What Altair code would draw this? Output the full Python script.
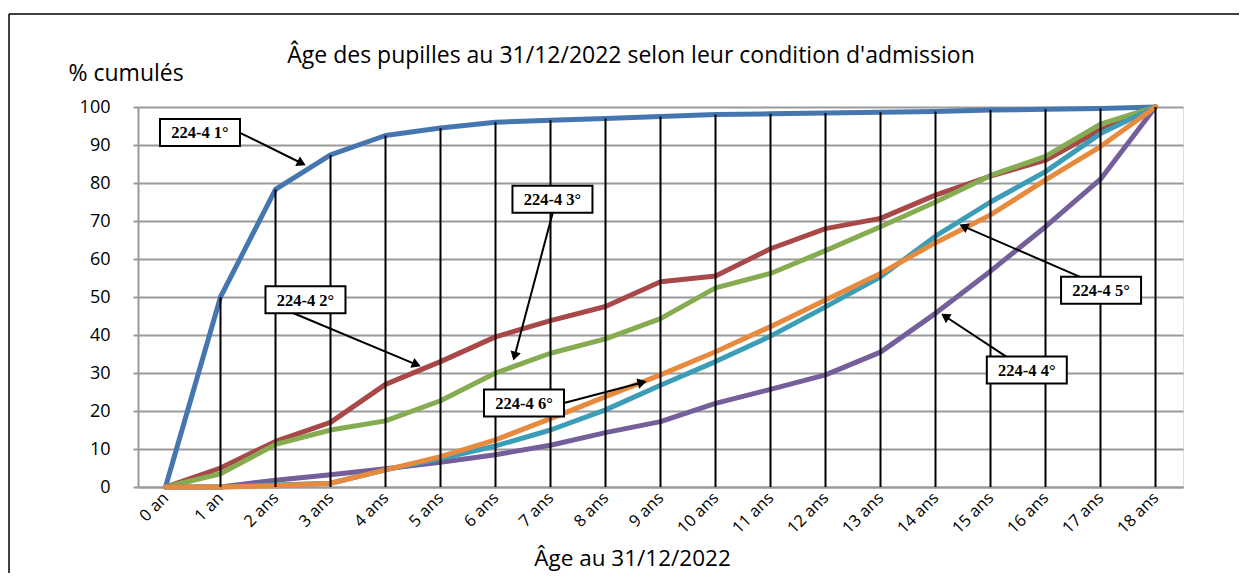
import json
import math
import altair as alt
import pandas as pd

# ---------------- data ----------------
ages = ["0 an", "1 an", "2 ans", "3 ans", "4 ans", "5 ans", "6 ans", "7 ans", "8 ans",
        "9 ans", "10 ans", "11 ans", "12 ans", "13 ans", "14 ans", "15 ans", "16 ans",
        "17 ans", "18 ans"]

series_names = ["224-4 1°", "224-4 2°", "224-4 3°", "224-4 4°", "224-4 5°", "224-4 6°"]
s1 = [0, 50, 78.3, 87.4, 92.5, 94.5, 96, 96.5, 97, 97.5, 98, 98.2, 98.4, 98.6, 98.8, 99.2, 99.4, 99.6, 100]
s2 = [0, 5, 12, 17, 27, 33, 39.5, 43.8, 47.5, 54, 55.5, 62.7, 68, 70.7, 76.8, 81.8, 86, 94, 100]
s3 = [0, 3.5, 11.2, 15, 17.4, 22.7, 30, 35.2, 39, 44.3, 52.4, 56.2, 62.2, 68.5, 75, 82, 87, 95.5, 100]
s4 = [0, 0, 1.8, 3.2, 4.8, 6.5, 8.5, 11, 14.3, 17.2, 22, 25.7, 29.5, 35.5, 45.7, 56.8, 68.5, 81, 100]
s5 = [0, 0, 0.5, 1, 4.5, 7.5, 10.8, 15, 20.3, 26.8, 33, 39.7, 47.4, 55.3, 66, 75, 83, 93, 100]
s6 = [0, 0, 0.3, 1, 4.5, 8, 12.4, 18, 23.8, 29.5, 35.6, 42.2, 49.2, 56.2, 64.3, 71.6, 80.8, 89.6, 100]
series_values = [s1, s2, s3, s4, s5, s6]
colors = ["#4676B0", "#A84848", "#86AC52", "#745F9A", "#3C9DB6", "#E88A3E"]

title_text = "Âge des pupilles au 31/12/2022 selon leur condition d'admission"
y_ticks = [0, 10, 20, 30, 40, 50, 60, 70, 80, 90, 100]

# annotation boxes: label text, centre (x in age units, y in %)
ann_text = ["224-4 1°", "224-4 2°", "224-4 3°", "224-4 6°", "224-4 5°", "224-4  4°"]
ann_cx = [0.627, 2.545, 7.036, 6.518, 17.01, 15.66]
ann_cy = [93.3, 49.3, 75.7, 22.1, 51.8, 30.8]
# arrows: start (x, y) and tip (x, y) in data units
arr_x1 = [1.355, 2.318, 7.045, 7.245, 16.627, 15.30]
arr_y1 = [93.2, 45.8, 72.4, 22.1, 55.3, 34.2]
arr_x2 = [2.573, 4.664, 6.318, 8.773, 14.409, 14.082]
arr_y2 = [84.5, 31.6, 32.9, 27.9, 69.2, 45.8]

# ---------------- layout ----------------
W, H = 1045, 380
PAD_L, PAD_T, PAD_R, PAD_B = 130, 99, 56, 86
PX_X = W / 19.0      # pixels per age unit
PX_Y = H / 100.0     # pixels per %
BOX_W, BOX_H = 80, 27
FONT = "Open Sans"

xscale = alt.Scale(domain=[-0.5, 18.5], nice=False, zero=False)
yscale = alt.Scale(domain=[0, 100], nice=False)
label_expr = json.dumps(ages) + "[datum.value]"

x_axis = alt.Axis(values=list(range(19)), labelExpr=label_expr, labelAngle=315,
                  labelAlign="right", labelBaseline="middle", labelPadding=8,
                  labelFontSize=16.5, labelFont=FONT, labelColor="#000000",
                  labelOverlap=False, labelFlush=False,
                  ticks=False, grid=False, domainColor="#9A9A9A", domainWidth=2,
                  title="Âge au 31/12/2022", titleFont=FONT, titleFontSize=22.5,
                  titleFontWeight="normal", titleColor="#000000",
                  titleX=494, titleY=78, titleAlign="center",
                  titleBaseline="alphabetic", titleAnchor="start")
y_axis = alt.Axis(values=y_ticks, tickCount=11, labelFontSize=18, labelFont=FONT,
                  labelColor="#000000", labelPadding=23, tickSize=5, tickWidth=2,
                  labelOverlap=False, labelFlush=False,
                  tickColor="#9A9A9A", grid=True, gridColor="#9A9A9A", gridWidth=2,
                  domainColor="#9A9A9A", domainWidth=2,
                  title="% cumulés", titleAngle=0, titleFont=FONT, titleFontSize=23,
                  titleFontWeight="normal", titleColor="#000000",
                  titleX=-70, titleY=-27, titleAlign="left",
                  titleBaseline="alphabetic", titleAnchor="start")


def X(field):
    return alt.X(field, scale=xscale, axis=x_axis)


def Y(field):
    return alt.Y(field, scale=yscale, axis=y_axis)


rows = []
for name, vals in zip(series_names, series_values):
    for i, v in enumerate(vals):
        rows.append({"x": i, "age": ages[i], "value": v, "series": name})
df = pd.DataFrame(rows)

layers = []
for name, col in zip(series_names, colors):
    layers.append(
        alt.Chart(df[df.series == name]).mark_line(
            color=col, strokeWidth=5, strokeJoin="round", strokeCap="round"
        ).encode(x=X("x:Q"), y=Y("value:Q"))
    )

# drop lines from the first series down to 0
drop_df = pd.DataFrame({"x": list(range(len(s1))), "top": s1, "bottom": [0] * len(s1)})
drop_df = drop_df[drop_df.top > 0]
layers.append(
    alt.Chart(drop_df).mark_rule(color="#000000", strokeWidth=2).encode(
        x=X("x:Q"), y=Y("top:Q"), y2="bottom:Q",
    )
)

# arrows
heads = []
for x1, y1, x2, y2 in zip(arr_x1, arr_y1, arr_x2, arr_y2):
    dxp = (x2 - x1) * PX_X
    dyp = -(y2 - y1) * PX_Y
    L = math.hypot(dxp, dyp)
    ux, uy = dxp / L, dyp / L
    back = 6.0
    hx = x2 - ux * back / PX_X
    hy = y2 + uy * back / PX_Y
    ang = math.degrees(math.atan2(dxp, -dyp)) % 360
    heads.append({"x1": x1, "y1": y1, "hx": hx, "hy": hy, "ang": ang})
heads_df = pd.DataFrame(heads)

layers.append(
    alt.Chart(heads_df).mark_rule(color="#000000", strokeWidth=2).encode(
        x=X("x1:Q"), y=Y("y1:Q"), x2="hx:Q", y2="hy:Q",
    )
)
layers.append(
    alt.Chart(heads_df).mark_point(shape="triangle-up", filled=True, color="#000000",
                                   size=110, opacity=1).encode(
        x=X("hx:Q"), y=Y("hy:Q"),
        angle=alt.Angle("ang:Q", scale=None),
    )
)

# annotation boxes
box_df = pd.DataFrame({
    "text": ann_text,
    "cx": ann_cx,
    "cy": ann_cy,
    "x0": [c - BOX_W / 2 / PX_X for c in ann_cx],
    "x1": [c + BOX_W / 2 / PX_X for c in ann_cx],
    "y0": [c - BOX_H / 2 / PX_Y for c in ann_cy],
    "y1": [c + BOX_H / 2 / PX_Y for c in ann_cy],
})
layers.append(
    alt.Chart(box_df).mark_rect(fill="#FFFFFF", stroke="#000000", strokeWidth=2).encode(
        x=X("x0:Q"), x2="x1:Q", y=Y("y0:Q"), y2="y1:Q",
    )
)
layers.append(
    alt.Chart(box_df).mark_text(font="Liberation Serif", fontWeight="bold", fontSize=16.5,
                                color="#000000", align="center", baseline="middle", dy=1).encode(
        x=X("cx:Q"), y=Y("cy:Q"), text="text:N",
    )
)

# chart title as text placed above the plot
layers.append(
    alt.Chart(pd.DataFrame({"t": [title_text]})).mark_text(
        font=FONT, fontSize=23, color="#000000", align="center", baseline="alphabetic"
    ).encode(x=alt.value(493), y=alt.value(-44), text="t:N")
)

# outer frame (top and left edges of the chart border)
layers.append(
    alt.Chart(pd.DataFrame({"k": [0]})).mark_rule(color="#000000", strokeWidth=1.5).encode(
        x=alt.value(9 - 8 - PAD_L), x2=alt.value(W + PAD_R + 10),
        y=alt.value(14 - 8 - PAD_T),
    )
)
layers.append(
    alt.Chart(pd.DataFrame({"k": [0]})).mark_rule(color="#000000", strokeWidth=1.5).encode(
        x=alt.value(9 - 8 - PAD_L),
        y=alt.value(14 - 8 - PAD_T), y2=alt.value(H + PAD_B + 10),
    )
)

chart = alt.layer(*layers).properties(
    width=W,
    height=H,
    padding={"left": PAD_L, "top": PAD_T, "right": PAD_R, "bottom": PAD_B},
    autosize=alt.AutoSizeParams(type="none"),
).configure_view(stroke=None).configure(background="#FFFFFF")

chart.save("out.html", embed_options={"renderer": "svg", "actions": False})
